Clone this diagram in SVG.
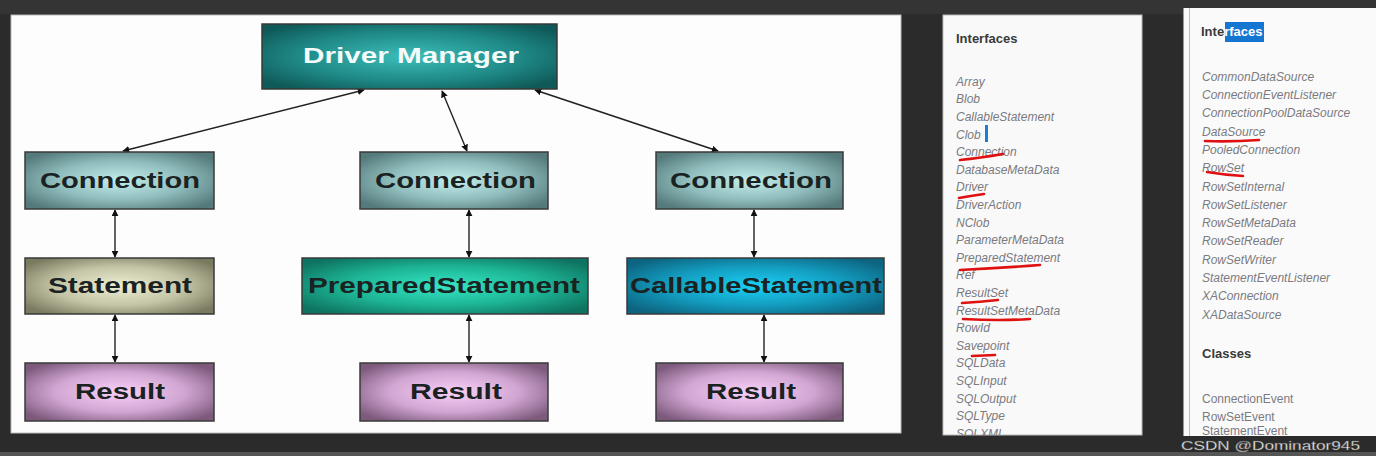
<svg xmlns="http://www.w3.org/2000/svg" width="1376" height="456" viewBox="0 0 1376 456">
<defs>
<radialGradient id="gDM" cx="50%" cy="50%" r="62%"><stop offset="0" stop-color="#3dbdb9"/><stop offset="0.6" stop-color="#1f8a87"/><stop offset="1" stop-color="#0f5a58"/></radialGradient>
<radialGradient id="gConn" cx="50%" cy="50%" r="62%"><stop offset="0" stop-color="#c4eeee"/><stop offset="0.55" stop-color="#8fbcbc"/><stop offset="1" stop-color="#557a7b"/></radialGradient>
<radialGradient id="gStmt" cx="50%" cy="50%" r="62%"><stop offset="0" stop-color="#eeeed4"/><stop offset="0.55" stop-color="#c4c4a6"/><stop offset="1" stop-color="#7a7a60"/></radialGradient>
<radialGradient id="gPS" cx="50%" cy="50%" r="62%"><stop offset="0" stop-color="#34e6c6"/><stop offset="0.55" stop-color="#1db595"/><stop offset="1" stop-color="#0e7461"/></radialGradient>
<radialGradient id="gCS" cx="50%" cy="50%" r="62%"><stop offset="0" stop-color="#1ad0f6"/><stop offset="0.55" stop-color="#139dc0"/><stop offset="1" stop-color="#0d6480"/></radialGradient>
<radialGradient id="gRes" cx="50%" cy="50%" r="62%"><stop offset="0" stop-color="#f8d0f8"/><stop offset="0.55" stop-color="#d2a6d2"/><stop offset="1" stop-color="#7c5a7c"/></radialGradient>
<marker id="ah" viewBox="0 0 10 10" refX="9" refY="5" markerWidth="7" markerHeight="7" orient="auto-start-reverse" markerUnits="userSpaceOnUse"><path d="M0,0 L10,5 L0,10 z" fill="#111"/></marker>
<clipPath id="clipP1"><rect x="943" y="15" width="199" height="420"/></clipPath>
<clipPath id="clipP2"><rect x="1185" y="8" width="191" height="428"/></clipPath>
</defs>
<style>
.box{stroke:#3a3a3a;stroke-width:1.5}
.lbl{font-family:"Liberation Sans",Arial,sans-serif;font-weight:bold;font-size:22px;fill:#1a2222;text-anchor:start}
.wlbl{fill:#f4fbfb}
.con{stroke:#222;stroke-width:1.4;fill:none;marker-start:url(#ah);marker-end:url(#ah)}
.hd{font-family:"Liberation Sans",Arial,sans-serif;font-weight:bold;font-size:13px;fill:#3a3a3a}
.it{font-family:"Liberation Sans",Arial,sans-serif;font-style:italic;font-size:12px;fill:#7a7a80}
.cl{font-family:"Liberation Sans",Arial,sans-serif;font-size:12px;fill:#7a7a80}
.red{stroke:#e01010;stroke-width:2.6;fill:none;stroke-linecap:round}
</style>
<!-- background -->
<rect x="0" y="0" width="1376" height="456" fill="#2b2b2b"/>
<rect x="0" y="0" width="1376" height="14" fill="#3a3a3a" opacity="0.6"/>
<rect x="0" y="452" width="1376" height="4" fill="#555"/>
<!-- left white panel -->
<rect x="11" y="15" width="890" height="418" fill="#fdfdfd" stroke="#bbb" stroke-width="1"/>

<g id="connectors">
<line class="con" x1="364" y1="90" x2="123" y2="151"/>
<line class="con" x1="442" y1="91" x2="467" y2="151"/>
<line class="con" x1="535" y1="90" x2="718" y2="151"/>
<line class="con" x1="115" y1="210" x2="115" y2="257"/>
<line class="con" x1="115" y1="315" x2="115" y2="362"/>
<line class="con" x1="469" y1="210" x2="469" y2="257"/>
<line class="con" x1="469" y1="315" x2="469" y2="362"/>
<line class="con" x1="754" y1="210" x2="754" y2="257"/>
<line class="con" x1="764" y1="315" x2="764" y2="362"/>
</g>

<g id="driver-manager">
<rect class="box" x="262" y="24" width="295" height="65" fill="url(#gDM)"/>
<text class="lbl wlbl" x="303" y="63" textLength="216" lengthAdjust="spacingAndGlyphs">Driver Manager</text>
</g>
<g id="connection-1">
<rect class="box" x="25" y="152" width="189" height="57" fill="url(#gConn)"/>
<text class="lbl" x="40" y="188" textLength="160" lengthAdjust="spacingAndGlyphs">Connection</text>
</g>
<g id="connection-2">
<rect class="box" x="360" y="152" width="188" height="57" fill="url(#gConn)"/>
<text class="lbl" x="375" y="188" textLength="161" lengthAdjust="spacingAndGlyphs">Connection</text>
</g>
<g id="connection-3">
<rect class="box" x="656" y="152" width="187" height="57" fill="url(#gConn)"/>
<text class="lbl" x="670" y="188" textLength="162" lengthAdjust="spacingAndGlyphs">Connection</text>
</g>
<g id="statement">
<rect class="box" x="25" y="258" width="189" height="56" fill="url(#gStmt)"/>
<text class="lbl" x="48" y="293" textLength="144" lengthAdjust="spacingAndGlyphs">Statement</text>
</g>
<g id="prepared-statement">
<rect class="box" x="302" y="258" width="286" height="56" fill="url(#gPS)"/>
<text class="lbl" x="308" y="293" textLength="272" lengthAdjust="spacingAndGlyphs">PreparedStatement</text>
</g>
<g id="callable-statement">
<rect class="box" x="627" y="258" width="257" height="56" fill="url(#gCS)"/>
<text class="lbl" x="630" y="293" textLength="252" lengthAdjust="spacingAndGlyphs">CallableStatement</text>
</g>
<g id="result-1">
<rect class="box" x="25" y="363" width="189" height="58" fill="url(#gRes)"/>
<text class="lbl" x="75" y="399" textLength="90" lengthAdjust="spacingAndGlyphs">Result</text>
</g>
<g id="result-2">
<rect class="box" x="360" y="363" width="188" height="58" fill="url(#gRes)"/>
<text class="lbl" x="410" y="399" textLength="92" lengthAdjust="spacingAndGlyphs">Result</text>
</g>
<g id="result-3">
<rect class="box" x="656" y="363" width="187" height="58" fill="url(#gRes)"/>
<text class="lbl" x="706" y="399" textLength="90" lengthAdjust="spacingAndGlyphs">Result</text>
</g>

<!-- panel 1: java.sql interfaces -->
<g id="panel-sql">
<rect x="943" y="15" width="199" height="420" fill="#f9f9f9" stroke="#bbb" stroke-width="1"/>
<g clip-path="url(#clipP1)">
<text class="hd" x="956" y="43">Interfaces</text>
<text class="it" x="956" y="85.7">Array</text>
<text class="it" x="956" y="103.3">Blob</text>
<text class="it" x="956" y="120.9">CallableStatement</text>
<text class="it" x="956" y="138.5">Clob</text>
<text class="it" x="956" y="156.1">Connection</text>
<text class="it" x="956" y="173.7">DatabaseMetaData</text>
<text class="it" x="956" y="191.3">Driver</text>
<text class="it" x="956" y="208.9">DriverAction</text>
<text class="it" x="956" y="226.5">NClob</text>
<text class="it" x="956" y="244.1">ParameterMetaData</text>
<text class="it" x="956" y="261.7">PreparedStatement</text>
<text class="it" x="956" y="279.3">Ref</text>
<text class="it" x="956" y="296.9">ResultSet</text>
<text class="it" x="956" y="314.5">ResultSetMetaData</text>
<text class="it" x="956" y="332.1">RowId</text>
<text class="it" x="956" y="349.7">Savepoint</text>
<text class="it" x="956" y="367.3">SQLData</text>
<text class="it" x="956" y="384.9">SQLInput</text>
<text class="it" x="956" y="402.5">SQLOutput</text>
<text class="it" x="956" y="420.1">SQLType</text>
<text class="it" x="956" y="437.7">SQLXML</text>
</g>
<rect x="985" y="125" width="3" height="17" fill="#1a7fd4"/>
<path class="red" d="M960 160 Q980 158 1003 154"/>
<path class="red" d="M959 198 Q970 196 984 194"/>
<path class="red" d="M960 270 Q1000 268 1040 265"/>
<path class="red" d="M962 303 Q980 302 998 300"/>
<path class="red" d="M963 319 Q1000 321 1030 319"/>
<path class="red" d="M972 356 L995 355"/>
</g>

<!-- panel 2: javax.sql interfaces -->
<g id="panel-javax-sql">
<rect x="1183" y="8" width="193" height="428" fill="#fafafa"/>
<line x1="1183.5" y1="8" x2="1183.5" y2="436" stroke="#999" stroke-width="1"/>
<line x1="1189.5" y1="8" x2="1189.5" y2="436" stroke="#bbb" stroke-width="1"/>
<rect x="1225" y="22" width="39" height="20" fill="#1576d2"/>
<g clip-path="url(#clipP2)">
<text class="hd" x="1201" y="36">Inte<tspan fill="#ffffff">rfaces</tspan></text>
<text class="it" x="1202" y="80.7">CommonDataSource</text>
<text class="it" x="1202" y="99">ConnectionEventListener</text>
<text class="it" x="1202" y="117.3">ConnectionPoolDataSource</text>
<text class="it" x="1202" y="135.6">DataSource</text>
<text class="it" x="1202" y="153.9">PooledConnection</text>
<text class="it" x="1202" y="172.2">RowSet</text>
<text class="it" x="1202" y="190.5">RowSetInternal</text>
<text class="it" x="1202" y="208.8">RowSetListener</text>
<text class="it" x="1202" y="227.1">RowSetMetaData</text>
<text class="it" x="1202" y="245.4">RowSetReader</text>
<text class="it" x="1202" y="263.7">RowSetWriter</text>
<text class="it" x="1202" y="282">StatementEventListener</text>
<text class="it" x="1202" y="300.3">XAConnection</text>
<text class="it" x="1202" y="318.6">XADataSource</text>
<text class="hd" x="1202" y="358">Classes</text>
<text class="cl" x="1202" y="403">ConnectionEvent</text>
<text class="cl" x="1202" y="421.3">RowSetEvent</text>
<text class="cl" x="1202" y="435">StatementEvent</text>
</g>
<path class="red" d="M1205 141 Q1230 142 1259 140"/>
<path class="red" d="M1207 172 Q1225 175 1243 176"/>
</g>

<text x="1181" y="450" font-family="'Liberation Sans',Arial,sans-serif" font-size="13" fill="#ffffff" stroke="#555" stroke-width="0.4" textLength="179" lengthAdjust="spacingAndGlyphs">CSDN @Dominator945</text>
</svg>
